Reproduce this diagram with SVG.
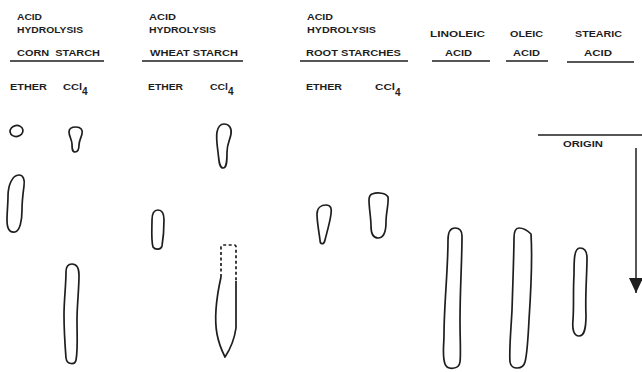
<svg xmlns="http://www.w3.org/2000/svg" width="642" height="372" viewBox="0 0 642 372">
<style>
  text { font-family: "Liberation Sans", Arial, sans-serif; font-size: 9.5px; font-weight: 700; fill: #1e1e1e; }
  .sub { font-size: 10px; }
  .rule { stroke: #1e1e1e; stroke-width: 1.5; fill: none; }
  .spot { stroke: #1e1e1e; stroke-width: 1.7; fill: none; stroke-linejoin: round; }
  .dash { stroke: #1e1e1e; stroke-width: 1.7; fill: none; stroke-dasharray: 3 2.5; }
</style>
<defs>
  <marker id="ah" markerWidth="15" markerHeight="14" refX="15" refY="7" orient="auto" markerUnits="userSpaceOnUse" viewBox="0 0 15 14">
    <path d="M0,0 L15,7 L0,14 Z" fill="#1e1e1e"/>
  </marker>
</defs>
<rect width="642" height="372" fill="#ffffff"/>

<g id="corn">
  <text x="17" y="20" textLength="25" lengthAdjust="spacingAndGlyphs">ACID</text>
  <text x="17" y="33" textLength="66" lengthAdjust="spacingAndGlyphs">HYDROLYSIS</text>
  <text x="17" y="56" textLength="83" lengthAdjust="spacingAndGlyphs" xml:space="preserve">CORN  STARCH</text>
  <line class="rule" x1="10" y1="61" x2="104" y2="61"/>
  <text x="10" y="90" textLength="37" lengthAdjust="spacingAndGlyphs">ETHER</text>
  <text x="63" y="90" textLength="19" lengthAdjust="spacingAndGlyphs">CCl</text>
  <text class="sub" x="82" y="95">4</text>
  <ellipse class="spot" cx="16.5" cy="131" rx="6.5" ry="5.5" transform="rotate(-10 16.5 131)"/>
  <path class="spot" d="M76 127 C81 127 83 130 82 134 C81 138 79 141 79 145 C79 150 77 152 75 152 C72 152 72 148 72 144 C72 140 69 136 69 132 C69 128 72 127 76 127 Z"/>
  <path class="spot" d="M19 175 C23 175 25 179 24 186 C23 194 22 200 22 210 C22 220 20 231 15 232 C9 233 7 228 7 220 C7 212 8 204 8 196 C8 186 12 175 19 175 Z"/>
  <path class="spot" d="M72 264 C77 264 79 268 79 275 C79 290 77 305 77 320 C77 335 78 350 76 360 C75 365 67 365 66 358 C65 345 64 330 64 315 C64 300 66 285 66 272 C66 267 68 264 72 264 Z"/>
</g>

<g id="wheat">
  <text x="149" y="20" textLength="27" lengthAdjust="spacingAndGlyphs">ACID</text>
  <text x="149" y="33" textLength="67" lengthAdjust="spacingAndGlyphs">HYDROLYSIS</text>
  <text x="150" y="56" textLength="88" lengthAdjust="spacingAndGlyphs">WHEAT STARCH</text>
  <line class="rule" x1="142" y1="61" x2="243" y2="61"/>
  <text x="148" y="90" textLength="35" lengthAdjust="spacingAndGlyphs">ETHER</text>
  <text x="210" y="90" textLength="18" lengthAdjust="spacingAndGlyphs">CCl</text>
  <text class="sub" x="228" y="95">4</text>
  <path class="spot" d="M224 124 C229 124 232 128 231 134 C230 140 227 144 227 152 C227 160 227 168 223 168 C219 168 219 160 218 152 C217 144 216 138 217 132 C218 127 220 124 224 124 Z"/>
  <path class="spot" d="M158 210 C163 210 164 214 164 220 C164 230 163 240 162 246 C161 250 155 250 153 247 C151 240 152 228 152 220 C152 214 154 210 158 210 Z"/>
  <path class="dash" d="M221 277 L221 247 Q221 245 223 245 L234 245 Q236 245 236 247 L236 281"/>
  <path class="spot" d="M221 277 C217 295 214 318 217 334 C219 345 222 351 225 357 C229 351 234 342 236 328 L236 281"/>
</g>

<g id="root">
  <text x="307" y="20" textLength="26" lengthAdjust="spacingAndGlyphs">ACID</text>
  <text x="307" y="33" textLength="69" lengthAdjust="spacingAndGlyphs">HYDROLYSIS</text>
  <text x="306" y="56" textLength="95" lengthAdjust="spacingAndGlyphs">ROOT STARCHES</text>
  <line class="rule" x1="300" y1="61" x2="408" y2="61"/>
  <text x="306" y="90" textLength="36" lengthAdjust="spacingAndGlyphs">ETHER</text>
  <text x="375" y="90" textLength="20" lengthAdjust="spacingAndGlyphs">CCl</text>
  <text class="sub" x="395" y="96">4</text>
  <path class="spot" d="M326 205 C331 205 332 209 331 214 C330 222 327 232 325 240 C324 245 320 245 320 240 C319 232 317 222 317 214 C317 208 321 205 326 205 Z"/>
  <path class="spot" d="M372 194 C378 192 386 193 388 197 C389 203 386 212 386 222 C386 232 383 238 378 238 C373 238 371 233 371 226 C371 218 369 208 369 200 C369 196 370 195 372 194 Z"/>
</g>

<g id="linoleic">
  <text x="430" y="37" textLength="55" lengthAdjust="spacingAndGlyphs">LINOLEIC</text>
  <text x="445" y="56" textLength="27" lengthAdjust="spacingAndGlyphs">ACID</text>
  <line class="rule" x1="432" y1="61" x2="490" y2="61"/>
  <path class="spot" d="M455 228 C460 228 462 231 462 236 C462 260 460 290 460 320 C460 340 461 355 460 362 C459 370 447 370 445 364 C442 356 444 345 444 335 C444 305 448 270 448 240 C448 232 450 228 455 228 Z"/>
</g>

<g id="oleic">
  <text x="510" y="37" textLength="33" lengthAdjust="spacingAndGlyphs">OLEIC</text>
  <text x="513" y="56" textLength="27" lengthAdjust="spacingAndGlyphs">ACID</text>
  <line class="rule" x1="506" y1="61" x2="548" y2="61"/>
  <path class="spot" d="M519 228 C523 228 527 230 531 234 C532 250 531 290 529 320 C528 340 527 355 525 362 C523 370 511 370 510 362 C509 350 511 330 512 310 C513 280 514 250 514 238 C514 232 516 228 519 228 Z"/>
</g>

<g id="stearic">
  <text x="575" y="37" textLength="47" lengthAdjust="spacingAndGlyphs">STEARIC</text>
  <text x="584" y="56" textLength="28" lengthAdjust="spacingAndGlyphs">ACID</text>
  <line class="rule" x1="567" y1="62" x2="634" y2="62"/>
  <path class="spot" d="M580 248 C585 248 587 252 587 258 C587 275 585 295 586 315 C586 330 584 336 579 336 C574 336 572 330 573 320 C574 305 573 290 574 275 C574 260 574 248 580 248 Z"/>
</g>

<g id="origin">
  <line class="rule" x1="538" y1="135" x2="642" y2="135"/>
  <text x="563" y="147" textLength="40" lengthAdjust="spacingAndGlyphs" style="font-size:8.5px">ORIGIN</text>
</g>

<g id="connectors">
  <line x1="636" y1="148" x2="636" y2="293" stroke="#1e1e1e" stroke-width="1.5" marker-end="url(#ah)"/>
</g>
</svg>
